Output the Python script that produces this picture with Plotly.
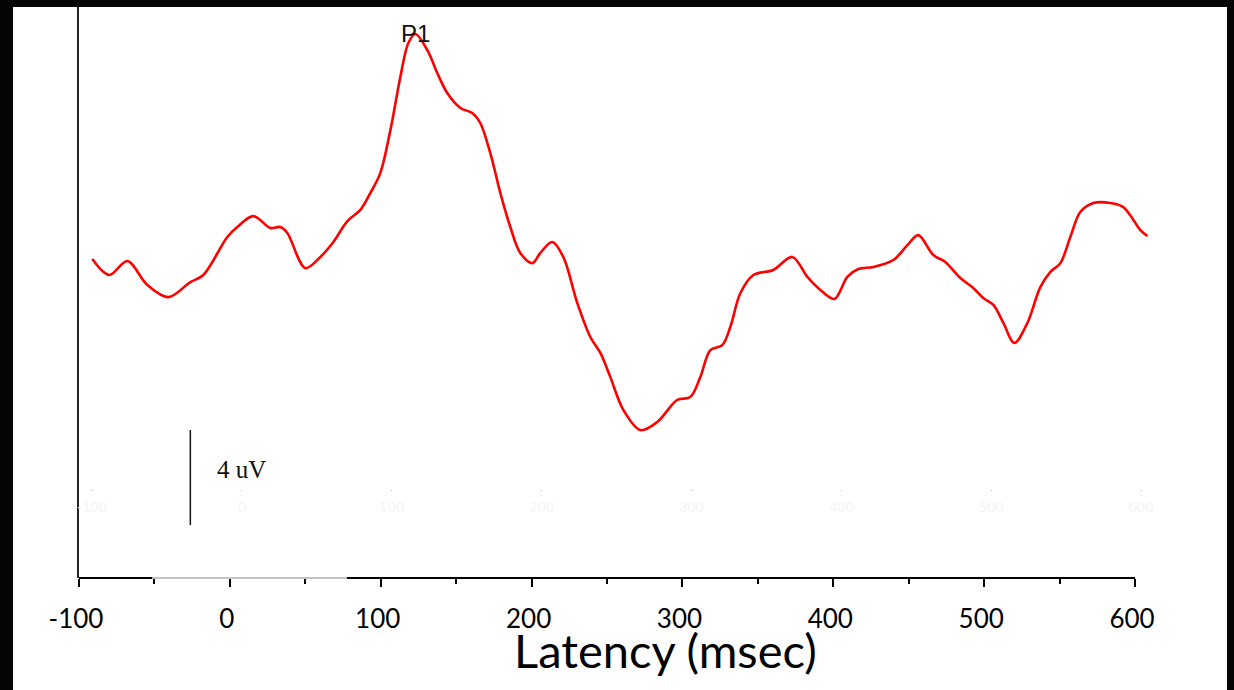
import plotly.graph_objects as go

# Grand-average waveform: latency (ms) and amplitude (uV), positive up
latency_ms = [
    -91.2, -79.9, -68.0, -54.7, -40.8, -26.2, -17.6, -1.7, 4.9, 15.5,
    26.8, 33.4, 38.1, 50.0, 60.0, 68.6, 77.9, 86.5, 93.1, 99.7,
    106.4, 113.0, 118.3, 122.9, 130.9, 137.5, 144.1, 152.8, 160.7, 166.0,
    172.6, 179.3, 185.9, 192.5, 200.5, 205.8, 213.7, 221.0, 230.3, 238.9,
    245.6, 252.2, 260.8, 272.1, 283.3, 296.6, 305.2, 311.8, 318.5, 326.4,
    331.7, 338.4, 347.0, 360.2, 372.8, 382.8, 391.4, 400.7, 409.3, 416.6,
    426.5, 439.8, 449.1, 456.3, 466.3, 474.2, 484.2, 492.8, 499.4, 506.1,
    512.7, 520.0, 528.6, 537.2, 543.9, 550.5, 557.1, 563.7, 572.4, 583.6,
    592.2, 598.9, 603.5, 608.2,
]
amplitude_uv = [
    0.46, -0.21, 0.38, -0.63, -1.14, -0.51, -0.21, 1.39, 1.81, 2.27,
    1.77, 1.81, 1.56, 0.08, 0.55, 1.18, 2.06, 2.53, 3.24, 4.08,
    5.89, 8.13, 9.56, 9.94, 9.26, 8.29, 7.45, 6.82, 6.61, 6.19,
    4.93, 3.24, 1.81, 0.72, 0.29, 0.72, 1.18, 0.55, -1.39, -2.82,
    -3.49, -4.51, -5.89, -6.74, -6.40, -5.47, -5.35, -4.51, -3.37, -3.16,
    -2.40, -0.97, -0.21, 0.00, 0.55, -0.29, -0.84, -1.22, -0.29, 0.04,
    0.13, 0.42, 1.05, 1.47, 0.63, 0.34, -0.34, -0.76, -1.18, -1.47,
    -2.23, -3.07, -2.23, -0.72, -0.08, 0.29, 1.39, 2.44, 2.82, 2.82,
    2.65, 2.11, 1.68, 1.43,
]

# Axis ticks
tick_vals = [-100, 0, 100, 200, 300, 400, 500, 600]
tick_text = ["-100", "0", "100", "200", "300", "400", "500", "600"]
minor_vals = [-50, 50, 150, 250, 350, 450, 550]

# Calibration bar
scale_bar_uv = 4
scale_bar_x = -26.2
scale_bar_bottom = -10.74

fig = go.Figure()

fig.add_trace(go.Scatter(
    x=latency_ms, y=amplitude_uv, mode="lines",
    line=dict(color="#ff0000", width=2.6, shape="spline", smoothing=0.95),
    showlegend=False, hoverinfo="skip",
))

# faint secondary axis carrying the original tick labels
fig.add_trace(go.Scatter(
    x=[tick_vals[0], tick_vals[-1]], y=[None, None], xaxis="x2",
    mode="lines", showlegend=False, hoverinfo="skip",
))

# P1 label on the waveform maximum
peak_i = amplitude_uv.index(max(amplitude_uv))
fig.add_annotation(
    x=latency_ms[peak_i], y=amplitude_uv[peak_i], text="P1", showarrow=False,
    xanchor="center", yanchor="middle",
    font=dict(family="Liberation Sans, Arial", size=24, color="#111111"),
)

# calibration bar and its label
fig.add_shape(
    type="line", xref="x", yref="y",
    x0=scale_bar_x, x1=scale_bar_x,
    y0=scale_bar_bottom, y1=scale_bar_bottom + scale_bar_uv,
    line=dict(color="#111111", width=1.5),
)
fig.add_annotation(
    x=scale_bar_x + 16.5, y=scale_bar_bottom + scale_bar_uv / 2 + 0.36,
    text=f"{scale_bar_uv} uV", showarrow=False, xanchor="left", yanchor="middle",
    font=dict(family="Liberation Serif, Times New Roman", size=25, color="#111111"),
)

# x axis line: light segment in the middle, solid black elsewhere
fig.add_shape(type="line", xref="x", yref="paper", x0=-100, x1=600, y0=0, y1=0,
              line=dict(color="#8a8a8a", width=1))
for a, b in [(-100, -51.5), (77.6, 600)]:
    fig.add_shape(type="line", xref="x", yref="paper", x0=a, x1=b, y0=0, y1=0,
                  line=dict(color="#000000", width=2))

# black frame around the slide
frame = dict(type="rect", xref="paper", yref="paper", fillcolor="#050505",
             line=dict(width=0), layer="above")
fig.add_shape(**frame, x0=-0.2, x1=-0.0616, y0=-0.3, y1=1.1)
fig.add_shape(**frame, x0=-0.2, x1=1.2, y0=1.0, y1=1.1)
fig.add_shape(**frame, x0=1.0719, x1=1.2, y0=-0.3, y1=1.1)

# axis title
fig.add_annotation(
    xref="paper", yref="paper", x=0.5472, y=-0.1260,
    text="Latency (msec)", showarrow=False, xanchor="center", yanchor="middle",
    font=dict(family="Lato, Open Sans", size=47, color="#000000"),
)

fig.update_layout(
    width=1234, height=690,
    margin=dict(l=79, r=84, t=7, b=112),
    paper_bgcolor="#ffffff", plot_bgcolor="#ffffff",
    xaxis=dict(
        range=[-100, 609.9], showline=False, showgrid=False, zeroline=False,
        tickmode="array", tickvals=tick_vals, ticktext=tick_text,
        ticks="outside", ticklen=8, tickwidth=1.5, tickcolor="#000000",
        minor=dict(tickmode="array", tickvals=minor_vals, ticks="outside",
                   ticklen=5, tickwidth=1.5, tickcolor="#000000"),
        tickfont=dict(family="Lato, Open Sans", size=26, color="#000000"),
        ticklabelshift=-3, ticklabelstandoff=10,
    ),
    xaxis2=dict(
        overlaying="x", anchor="free", position=0.1567, side="bottom",
        range=[-108.67, 606.0], showline=False, showgrid=False, zeroline=False,
        tickmode="array", tickvals=tick_vals, ticktext=tick_text,
        ticks="outside", ticklen=1, tickwidth=1, tickcolor="#bdbdbd",
        tickfont=dict(family="Liberation Sans, Arial", size=15, color="#f5f5f5"),
        ticklabelstandoff=3,
    ),
    yaxis=dict(
        range=[-12.968, 11.074], showline=True, linecolor="#222222", linewidth=2,
        showgrid=False, zeroline=False, ticks="", showticklabels=False,
    ),
)

fig.write_html("out.html")
